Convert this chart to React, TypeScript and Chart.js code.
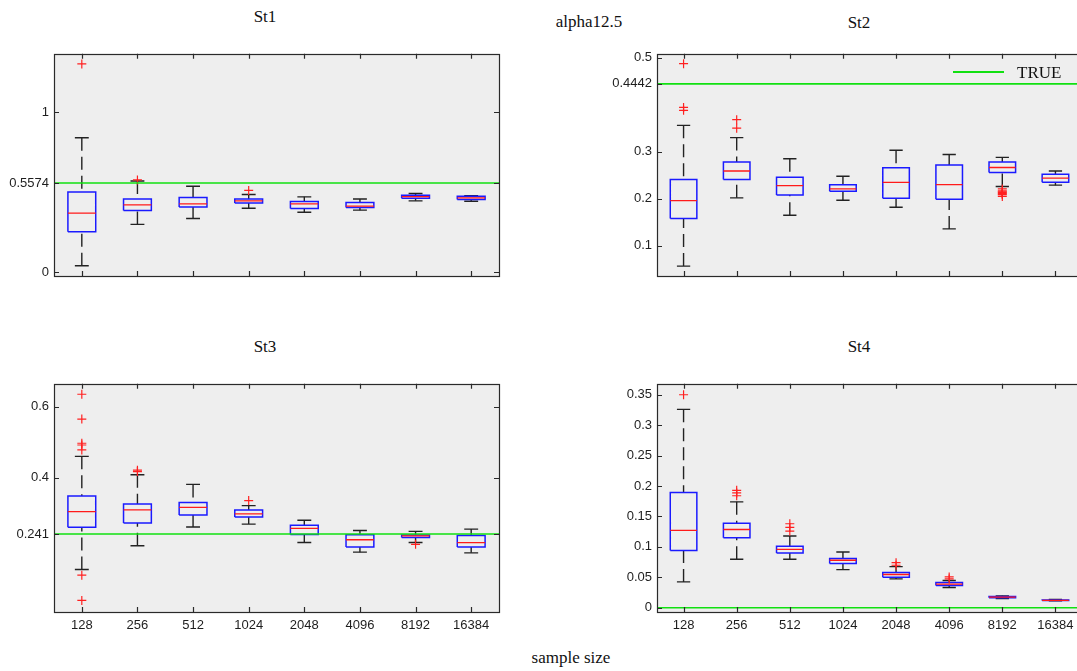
import React, { useEffect, useRef } from 'react';
import { Chart, registerables } from 'chart.js';

Chart.register(...registerables);

// ---- data ---------------------------------------------------------------

const categories = ['128', '256', '512', '1024', '2048', '4096', '8192', '16384'];

// St1
const st1Low = [0.041, 0.299, 0.336, 0.4, 0.375, 0.388, 0.446, 0.444];
const st1Q1 = [0.253, 0.386, 0.407, 0.432, 0.398, 0.405, 0.463, 0.455];
const st1Median = [0.369, 0.421, 0.427, 0.446, 0.427, 0.413, 0.473, 0.465];
const st1Q3 = [0.502, 0.458, 0.467, 0.458, 0.442, 0.436, 0.481, 0.475];
const st1High = [0.84, 0.57, 0.537, 0.486, 0.471, 0.458, 0.492, 0.479];
const st1OutlierPos = [1, 2, 4];
const st1OutlierVal = [1.301, 0.577, 0.511];
const st1True = 0.5574;
const st1Ticks = [0, 0.5574, 1];
const st1TickLabels = ['0', '0.5574', '1'];
const st1Range = [-0.023, 1.364];

// St2
const st2Low = [0.057, 0.202, 0.165, 0.197, 0.182, 0.136, 0.226, 0.229];
const st2Q1 = [0.158, 0.241, 0.208, 0.216, 0.201, 0.199, 0.256, 0.235];
const st2Median = [0.196, 0.259, 0.228, 0.221, 0.235, 0.23, 0.2665, 0.244];
const st2Q3 = [0.241, 0.278, 0.246, 0.23, 0.266, 0.272, 0.278, 0.252];
const st2High = [0.356, 0.33, 0.285, 0.248, 0.303, 0.294, 0.288, 0.259];
const st2OutlierPos = [1, 1, 1, 2, 2, 7, 7, 7, 7, 7, 7, 7];
const st2OutlierVal = [0.487, 0.394, 0.388, 0.368, 0.35, 0.221, 0.217, 0.215, 0.213, 0.211, 0.209, 0.205];
const st2True = 0.4442;
const st2Ticks = [0.1, 0.2, 0.3, 0.4442, 0.5];
const st2TickLabels = ['0.1', '0.2', '0.3', '0.4442', '0.5'];
const st2Range = [0.036, 0.508];

// St3
const st3Low = [0.141, 0.208, 0.261, 0.269, 0.217, 0.19, 0.217, 0.188];
const st3Q1 = [0.26, 0.272, 0.295, 0.289, 0.24, 0.2045, 0.231, 0.2045];
const st3Median = [0.304, 0.309, 0.316, 0.298, 0.257, 0.225, 0.236, 0.217];
const st3Q3 = [0.348, 0.326, 0.33, 0.309, 0.266, 0.239, 0.238, 0.237];
const st3High = [0.46, 0.408, 0.381, 0.321, 0.28, 0.251, 0.2485, 0.255];
const st3OutlierPos = [1, 1, 1, 1, 1, 1, 1, 2, 2, 4, 7];
const st3OutlierVal = [0.635, 0.565, 0.497, 0.492, 0.478, 0.125, 0.054, 0.421, 0.417, 0.3355, 0.212];
const st3True = 0.241;
const st3Ticks = [0.241, 0.4, 0.6];
const st3TickLabels = ['0.241', '0.4', '0.6'];
const st3Range = [0.0213, 0.6645];

// St4
const st4Low = [0.0425, 0.0796, 0.0796, 0.0627, 0.0474, 0.0333, 0.015, 0.0113];
const st4Q1 = [0.094, 0.115, 0.09, 0.0725, 0.05, 0.0366, 0.0163, 0.0118];
const st4Median = [0.127, 0.1286, 0.096, 0.078, 0.0546, 0.0387, 0.0175, 0.0122];
const st4Q3 = [0.1895, 0.139, 0.101, 0.081, 0.0578, 0.0415, 0.0185, 0.0128];
const st4High = [0.326, 0.174, 0.118, 0.0915, 0.0676, 0.0448, 0.0195, 0.0135];
const st4OutlierPos = [1, 2, 2, 2, 3, 3, 3, 5, 5, 6, 6];
const st4OutlierVal = [0.35, 0.193, 0.1886, 0.184, 0.138, 0.132, 0.126, 0.074, 0.0698, 0.0507, 0.0474];
const st4True = 0;
const st4Ticks = [0, 0.05, 0.1, 0.15, 0.2, 0.25, 0.3, 0.35];
const st4TickLabels = ['0', '0.05', '0.1', '0.15', '0.2', '0.25', '0.3', '0.35'];
const st4Range = [-0.007, 0.368];

// ---- layout & style -----------------------------------------------------

const Y_AXIS_W = 60;
const X_AXIS_H = 30;
const PAD_T = 12;
const PAD_R = 12;
const BOX_HALF = 0.25;
const CAP_HALF = 0.125;
const TICK_LEN = 5;

const TICK_FONT = { family: '"Liberation Sans", Arial, sans-serif', size: 13 };
const TEXT_COLOR = '#1e1e1e';
const SERIF = '"Liberation Serif", "Times New Roman", serif';

type Stats = {
  low: number[];
  q1: number[];
  median: number[];
  q3: number[];
  high: number[];
  outlierPos: number[];
  outlierVal: number[];
  trueValue: number;
  ticks: number[];
  tickLabels: string[];
  range: number[];
};

type Frame = { left: number; top: number; right: number; bottom: number; showX: boolean };

const panels: { stats: Stats; frame: Frame }[] = [
  {
    stats: { low: st1Low, q1: st1Q1, median: st1Median, q3: st1Q3, high: st1High, outlierPos: st1OutlierPos, outlierVal: st1OutlierVal, trueValue: st1True, ticks: st1Ticks, tickLabels: st1TickLabels, range: st1Range },
    frame: { left: 54, top: 53, right: 499, bottom: 276, showX: false },
  },
  {
    stats: { low: st2Low, q1: st2Q1, median: st2Median, q3: st2Q3, high: st2High, outlierPos: st2OutlierPos, outlierVal: st2OutlierVal, trueValue: st2True, ticks: st2Ticks, tickLabels: st2TickLabels, range: st2Range },
    frame: { left: 657, top: 53, right: 1082, bottom: 276, showX: false },
  },
  {
    stats: { low: st3Low, q1: st3Q1, median: st3Median, q3: st3Q3, high: st3High, outlierPos: st3OutlierPos, outlierVal: st3OutlierVal, trueValue: st3True, ticks: st3Ticks, tickLabels: st3TickLabels, range: st3Range },
    frame: { left: 54, top: 383, right: 499, bottom: 612, showX: true },
  },
  {
    stats: { low: st4Low, q1: st4Q1, median: st4Median, q3: st4Q3, high: st4High, outlierPos: st4OutlierPos, outlierVal: st4OutlierVal, trueValue: st4True, ticks: st4Ticks, tickLabels: st4TickLabels, range: st4Range },
    frame: { left: 657, top: 383, right: 1082, bottom: 612, showX: true },
  },
];

// Grey plot background, dark frame and inward tick marks on all four sides.
const matlabAxes = {
  id: 'matlabAxes',
  beforeDraw(chart: any) {
    const { ctx, chartArea: a } = chart;
    ctx.save();
    ctx.fillStyle = '#eeeeee';
    ctx.fillRect(a.left, a.top, a.right - a.left, a.bottom - a.top);
    ctx.restore();
  },
  afterDraw(chart: any) {
    const { ctx, chartArea: a, scales } = chart;
    ctx.save();
    ctx.strokeStyle = '#2a2a2a';
    ctx.lineWidth = 1.2;
    ctx.beginPath();
    scales.x.ticks.forEach((t: any) => {
      const px = Math.round(scales.x.getPixelForValue(t.value)) + 0.5;
      ctx.moveTo(px, a.bottom);
      ctx.lineTo(px, a.bottom - TICK_LEN);
      ctx.moveTo(px, a.top);
      ctx.lineTo(px, a.top + TICK_LEN);
    });
    scales.y.ticks.forEach((t: any) => {
      const py = Math.round(scales.y.getPixelForValue(t.value)) + 0.5;
      ctx.moveTo(a.left, py);
      ctx.lineTo(a.left + TICK_LEN, py);
      ctx.moveTo(a.right, py);
      ctx.lineTo(a.right - TICK_LEN, py);
    });
    ctx.stroke();
    ctx.strokeRect(Math.round(a.left) + 0.5, Math.round(a.top) + 0.5, Math.round(a.right - a.left), Math.round(a.bottom - a.top));
    ctx.restore();
  },
};

function lineSet(data: any[], color: string, width: number, order: number, dash: number[] = []) {
  return {
    type: 'line',
    data,
    borderColor: color,
    borderWidth: width,
    borderDash: dash,
    pointRadius: 0,
    pointHoverRadius: 0,
    fill: false,
    tension: 0,
    spanGaps: false,
    order,
  };
}

function buildDatasets(s: Stats) {
  const gap = (x: number) => ({ x, y: null });
  const box: any[] = [];
  const med: any[] = [];
  const whisk: any[] = [];
  const caps: any[] = [];
  s.q1.forEach((_, i) => {
    const x = i + 1;
    box.push(
      { x: x - BOX_HALF, y: s.q1[i] },
      { x: x + BOX_HALF, y: s.q1[i] },
      { x: x + BOX_HALF, y: s.q3[i] },
      { x: x - BOX_HALF, y: s.q3[i] },
      { x: x - BOX_HALF, y: s.q1[i] },
      gap(x)
    );
    med.push({ x: x - BOX_HALF, y: s.median[i] }, { x: x + BOX_HALF, y: s.median[i] }, gap(x));
    whisk.push(
      { x, y: s.high[i] },
      { x, y: s.q3[i] },
      gap(x),
      { x, y: s.low[i] },
      { x, y: s.q1[i] },
      gap(x)
    );
    caps.push(
      { x: x - CAP_HALF, y: s.high[i] },
      { x: x + CAP_HALF, y: s.high[i] },
      gap(x),
      { x: x - CAP_HALF, y: s.low[i] },
      { x: x + CAP_HALF, y: s.low[i] },
      gap(x)
    );
  });
  const outliers = s.outlierPos.map((p, i) => ({ x: p, y: s.outlierVal[i] }));
  const truth = [
    { x: 0.5, y: s.trueValue },
    { x: categories.length + 0.5, y: s.trueValue },
  ];
  return [
    { ...lineSet(truth, '#11e011', 1.6, 0), label: 'TRUE' },
    {
      type: 'line',
      data: outliers,
      showLine: false,
      pointStyle: 'cross',
      pointRadius: 4.5,
      pointBorderColor: '#ff2020',
      pointBorderWidth: 1.2,
      order: 1,
    },
    lineSet(med, '#ff1a1a', 1.3, 2),
    lineSet(box, '#1a1aff', 1.5, 3),
    lineSet(caps, '#222222', 1.4, 4),
    lineSet(whisk, '#222222', 1.4, 5, [13, 6]),
  ];
}

function Panel({ stats, frame }: { stats: Stats; frame: Frame }) {
  const ref = useRef<HTMLCanvasElement>(null);
  const w = frame.right - frame.left + Y_AXIS_W + PAD_R;
  const h = frame.bottom - frame.top + PAD_T + X_AXIS_H;

  useEffect(() => {
    const canvas = ref.current;
    if (!canvas) return;
    const chart = new Chart(canvas, {
      type: 'line',
      data: { datasets: buildDatasets(stats) as any },
      options: {
        animation: false,
        responsive: false,
        devicePixelRatio: 1,
        events: [],
        layout: { padding: { top: PAD_T, right: PAD_R, left: 0, bottom: 0 } },
        plugins: { legend: { display: false }, tooltip: { enabled: false }, title: { display: false } },
        scales: {
          x: {
            type: 'linear',
            min: 0.5,
            max: categories.length + 0.5,
            afterBuildTicks: (sc: any) => {
              sc.ticks = categories.map((_, i) => ({ value: i + 1 }));
            },
            afterFit: (sc: any) => {
              sc.height = X_AXIS_H;
            },
            ticks: {
              display: frame.showX,
              autoSkip: false,
              maxRotation: 0,
              padding: 6,
              font: TICK_FONT,
              color: TEXT_COLOR,
              callback: (_v: any, i: number) => categories[i],
            },
            grid: { display: false, drawTicks: false, tickLength: 0 },
            border: { display: false },
          },
          y: {
            type: 'linear',
            min: stats.range[0],
            max: stats.range[1],
            afterBuildTicks: (sc: any) => {
              sc.ticks = stats.ticks.map((v) => ({ value: v }));
            },
            afterFit: (sc: any) => {
              sc.width = Y_AXIS_W;
            },
            ticks: {
              padding: 5,
              font: TICK_FONT,
              color: TEXT_COLOR,
              callback: (_v: any, i: number) => stats.tickLabels[i],
            },
            grid: { display: false, drawTicks: false, tickLength: 0 },
            border: { display: false },
          },
        },
      } as any,
      plugins: [matlabAxes],
    });
    return () => chart.destroy();
  }, [stats, frame]);

  return (
    <canvas
      ref={ref}
      width={w}
      height={h}
      style={{ position: 'absolute', left: frame.left - Y_AXIS_W, top: frame.top - PAD_T, width: w, height: h }}
    />
  );
}

function Label({ text, x, y }: { text: string; x: number; y: number }) {
  return (
    <div
      style={{
        position: 'absolute',
        left: x,
        top: y,
        transform: 'translate(-50%, -50%)',
        fontFamily: SERIF,
        fontSize: 17,
        lineHeight: 1,
        color: '#111',
        whiteSpace: 'nowrap',
      }}
    >
      {text}
    </div>
  );
}

export default function App() {
  return (
    <div
      style={{
        position: 'fixed',
        left: 0,
        top: 0,
        width: 1077,
        height: 671,
        overflow: 'hidden',
        background: '#ffffff',
      }}
    >
      {panels.map((p, i) => (
        <Panel key={i} stats={p.stats} frame={p.frame} />
      ))}
      <Label text="St1" x={265} y={16} />
      <Label text="alpha12.5" x={589} y={21} />
      <Label text="St2" x={859} y={22} />
      <Label text="St3" x={265} y={346} />
      <Label text="St4" x={859} y={346} />
      <Label text="sample size" x={571} y={657} />
      {/* legend for the reference line */}
      <div style={{ position: 'absolute', left: 953, top: 71, width: 51, height: 1.6, background: '#11e011' }} />
      <div
        style={{
          position: 'absolute',
          left: 1017,
          top: 72,
          transform: 'translateY(-50%)',
          fontFamily: SERIF,
          fontSize: 17,
          lineHeight: 1,
          color: '#111',
          whiteSpace: 'nowrap',
        }}
      >
        TRUE
      </div>
    </div>
  );
}
